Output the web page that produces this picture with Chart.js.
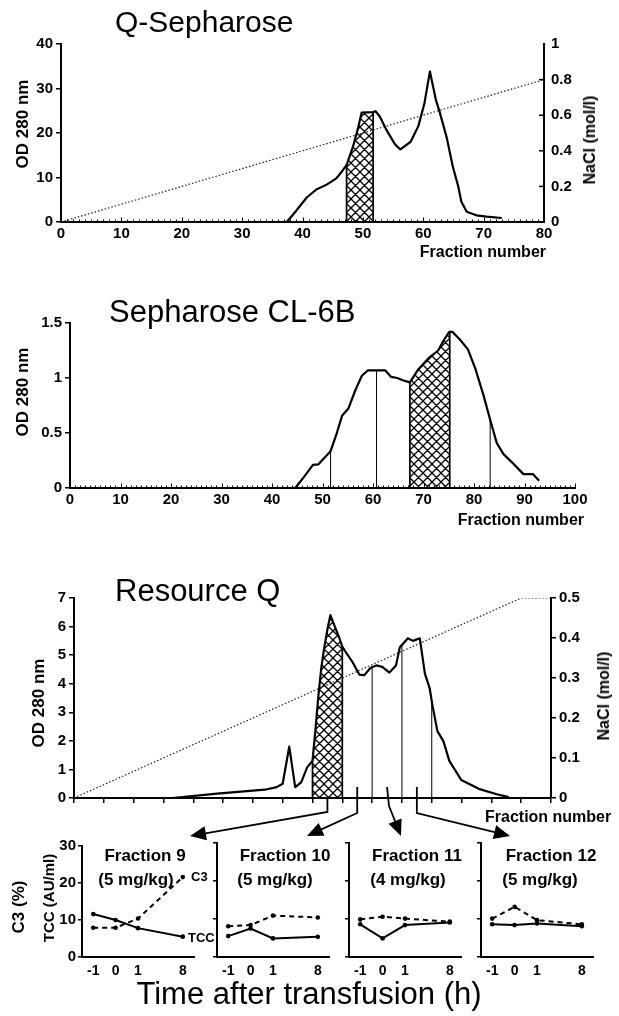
<!DOCTYPE html>
<html>
<head>
<meta charset="utf-8">
<script src="https://cdn.jsdelivr.net/npm/chart.js@4.4.1/dist/chart.umd.min.js"></script>
<style>
  body { margin: 0; background: #fff; }
  #page { position: relative; width: 619px; height: 1016px; overflow: hidden;
          font-family: "Liberation Sans", Arial, sans-serif; color: #000; }
  canvas { position: absolute; }
  .t { position: absolute; white-space: nowrap; line-height: 1; }
  .b { font-weight: bold; }
  .c { transform: translate(-50%, -50%); }
  .r { transform: translate(-50%, -50%) rotate(-90deg); }
  .e { transform: translate(-100%, -50%); }
  .s { transform: translate(0, -50%); }
</style>
</head>
<body>
<div id="page">
  <canvas id="qs" width="619" height="224" style="left:0;top:28px"></canvas>
  <canvas id="cl" width="619" height="202" style="left:0;top:311px"></canvas>
  <canvas id="rq" width="619" height="264" style="left:0;top:586px"></canvas>
  <canvas id="f9" width="150" height="145" style="left:50px;top:835px"></canvas>
  <canvas id="f10" width="130" height="145" style="left:205px;top:835px"></canvas>
  <canvas id="f11" width="130" height="145" style="left:337px;top:835px"></canvas>
  <canvas id="f12" width="130" height="145" style="left:469px;top:835px"></canvas>

  <div class="t" style="left:115px;top:7px;font-size:30px">Q-Sepharose</div>
  <div class="t b r" style="left:22px;top:124px;font-size:17px">OD 280 nm</div>
  <div class="t b r" style="left:590px;top:140px;font-size:16px">NaCl (mol/l)</div>
  <div class="t b e" style="left:546px;top:252px;font-size:16px">Fraction number</div>

  <div class="t" style="left:109px;top:296px;font-size:31px">Sepharose CL-6B</div>
  <div class="t b r" style="left:22px;top:392px;font-size:17px">OD 280 nm</div>
  <div class="t b e" style="left:584px;top:520px;font-size:16px">Fraction number</div>

  <div class="t" style="left:115px;top:575px;font-size:31px">Resource Q</div>
  <div class="t b r" style="left:38px;top:703px;font-size:17px">OD 280 nm</div>
  <div class="t b r" style="left:604px;top:696px;font-size:16px">NaCl (mol/l)</div>
  <div class="t b s" style="left:485px;top:817px;font-size:16px">Fraction number</div>

  <div class="t b r" style="left:18px;top:907px;font-size:17px">C3 (%)</div>
  <div class="t b r" style="left:48px;top:898px;font-size:15px">TCC (AU/ml)</div>
  <div class="t b c" style="left:145px;top:855px;font-size:17px">Fraction 9</div>
  <div class="t b c" style="left:136px;top:879px;font-size:17px">(5 mg/kg)</div>
  <div class="t b c" style="left:285px;top:855px;font-size:17px">Fraction 10</div>
  <div class="t b c" style="left:275px;top:879px;font-size:17px">(5 mg/kg)</div>
  <div class="t b c" style="left:417px;top:855px;font-size:17px">Fraction 11</div>
  <div class="t b c" style="left:408px;top:879px;font-size:17px">(4 mg/kg)</div>
  <div class="t b c" style="left:551px;top:855px;font-size:17px">Fraction 12</div>
  <div class="t b c" style="left:540px;top:879px;font-size:17px">(5 mg/kg)</div>
  <div class="t b s" style="left:191px;top:876px;font-size:13px">C3</div>
  <div class="t b s" style="left:188px;top:937px;font-size:13px">TCC</div>
  <div class="t c" style="left:309px;top:993px;font-size:31px">Time after transfusion (h)</div>
</div>

<script>
// Q-Sepharose: OD 280 nm per fraction, NaCl gradient, pooled fractions
const qsFraction = [37.4, 39, 40.7, 42.3, 44, 45.6, 46.5, 47.3, 48.4, 49.2, 49.8, 51.7, 52.1, 52.8, 53.9, 55.3, 56.2, 57.9, 59.2, 60.2, 61.1, 62.1, 62.7, 63.9, 64.9, 65.8, 66.3, 67.2, 68.8, 70.5, 73];
const qsOD = [0, 2.6, 5.5, 7.3, 8.4, 9.8, 11.3, 12.8, 17.1, 21.1, 24.6, 24.7, 24.9, 23.7, 20.7, 17.5, 16.3, 18.0, 21.6, 26.7, 33.8, 27.4, 24.8, 18.9, 12.4, 8.0, 4.6, 2.3, 1.5, 1.2, 0.9];
const qsNaClFraction = [0, 80];
const qsNaCl = [0, 0.8];
const qsPool = [47.3, 51.7];

// Sepharose CL-6B
const clFraction = [44.6, 46.5, 48.1, 49.2, 50.4, 51.6, 52.7, 53.9, 55.1, 56.6, 57.8, 59.0, 60.1, 62.4, 63.6, 64.8, 65.9, 67.3, 69.0, 71.0, 72.9, 74.1, 75.1, 75.7, 77.2, 78.8, 80.3, 81.9, 83.2, 84.5, 85.8, 87.8, 89.8, 91.7, 92.9];
const clOD = [0, 0.11, 0.21, 0.215, 0.275, 0.335, 0.48, 0.66, 0.72, 0.9, 1.02, 1.07, 1.07, 1.07, 1.01, 1.0, 0.98, 0.96, 1.08, 1.18, 1.25, 1.35, 1.42, 1.42, 1.35, 1.26, 1.08, 0.84, 0.62, 0.41, 0.31, 0.22, 0.126, 0.126, 0.066];
const clCuts = [51.6, 60.7, 83.2];
const clPool = [67.3, 75.2];

// Resource Q
const rqFraction = [3.3, 4.8, 6.4, 6.8, 7.0, 7.22, 7.42, 7.62, 7.82, 8.0, 8.1, 8.2, 8.3, 8.4, 8.5, 8.6, 8.75, 8.9, 9.0, 9.15, 9.34, 9.57, 9.74, 9.94, 10.14, 10.34, 10.58, 10.8, 10.93, 11.2, 11.37, 11.6, 11.77, 11.93, 12.02, 12.19, 12.39, 12.59, 12.99, 13.58, 14.18, 14.58];
const rqOD = [0, 0.15, 0.29, 0.38, 0.5, 1.8, 0.38, 0.55, 1.07, 1.3, 2.4, 3.6, 4.6, 5.3, 5.9, 6.4, 6.0, 5.6, 5.3, 5.05, 4.76, 4.32, 4.3, 4.55, 4.64, 4.59, 4.39, 4.64, 5.28, 5.59, 5.5, 5.59, 4.35, 3.84, 3.26, 2.34, 1.99, 1.3, 0.63, 0.32, 0.13, 0.03];
const rqNaClFraction = [0, 15, 16];
const rqNaCl = [0, 0.5, 0.5];
const rqCuts = [10, 11, 12];
const rqPool = [8, 9];
const testedFractions = [9, 10, 11, 12];

// C3 and TCC after transfusion of each fraction
const timeLabels = ['-1', '0', '1', '', '8'];
const tcc9 = [11.6, 10.0, 7.8, null, 5.5];
const c3f9 = [7.9, 7.9, 10.4, null, 21.6];
const tcc10 = [5.5, 7.5, 4.9, null, 5.3];
const c3f10 = [8.1, 8.4, 10.9, null, 10.4];
const tcc11 = [8.6, 4.9, 8.4, null, 9.1];
const c3f11 = [9.9, 10.6, 10.1, null, 9.3];
const tcc12 = [8.6, 8.4, 8.8, null, 8.1];
const c3f12 = [10.1, 13.2, 9.7, null, 8.6];

const FAMILY = "'Liberation Sans', Arial, sans-serif";
const bold = (size) => ({ family: FAMILY, size: size, weight: 'bold' });
const fit = (n) => (s) => { if (s.isHorizontal()) s.height = n; else s.width = n; };
const xy = (xs, ys) => xs.map((x, i) => ({ x: x, y: ys[i] }));
const plain = v => String(+v.toFixed(1));

const hatch = (function () {
  const c = document.createElement('canvas');
  c.width = 9; c.height = 9;
  const g = c.getContext('2d');
  g.strokeStyle = '#000';
  g.lineWidth = 1.3;
  g.beginPath();
  for (let k = -9; k <= 9; k += 9) {
    g.moveTo(k, 0); g.lineTo(k + 9, 9);
    g.moveTo(k + 9, 0); g.lineTo(k, 9);
  }
  g.stroke();
  return c;
})();

function curveYAt(pts, x) {
  for (let i = 1; i < pts.length; i++) {
    if (x <= pts[i].x) {
      const a = pts[i - 1], b = pts[i];
      return a.y + (b.y - a.y) * (x - a.x) / (b.x - a.x);
    }
  }
  return pts[pts.length - 1].y;
}

function drawArrow(ctx, pts) {
  const n = pts.length;
  const [tx, ty] = pts[n - 1], [px, py] = pts[n - 2];
  const len = Math.hypot(tx - px, ty - py);
  const dx = (tx - px) / len, dy = (ty - py) / len;
  const L = 16, W = 7;
  ctx.beginPath();
  ctx.moveTo(pts[0][0], pts[0][1]);
  for (let i = 1; i < n - 1; i++) ctx.lineTo(pts[i][0], pts[i][1]);
  ctx.lineTo(tx - dx * L * 0.8, ty - dy * L * 0.8);
  ctx.stroke();
  ctx.beginPath();
  ctx.moveTo(tx, ty);
  ctx.lineTo(tx - dx * L - dy * W, ty - dy * L + dx * W);
  ctx.lineTo(tx - dx * L + dy * W, ty - dy * L - dx * W);
  ctx.closePath();
  ctx.fill();
}

const fractionMarks = {
  id: 'fractionMarks',
  beforeDatasetsDraw(chart, args, opts) {
    if (!opts.pool) return;
    const ctx = chart.ctx;
    const pts = chart.getDatasetMeta(0).data.map(p => ({ x: p.x, y: p.y }));
    const xs = chart.scales.x;
    const base = chart.scales.y.getPixelForValue(0);
    const top = chart.chartArea.top;
    const x1 = xs.getPixelForValue(opts.pool[0]);
    const x2 = xs.getPixelForValue(opts.pool[1]);
    ctx.save();
    ctx.beginPath();
    ctx.rect(x1, top, x2 - x1, base - top);
    ctx.clip();
    ctx.beginPath();
    ctx.moveTo(pts[0].x, base);
    pts.forEach(p => ctx.lineTo(p.x, p.y));
    ctx.lineTo(pts[pts.length - 1].x, base);
    ctx.closePath();
    ctx.fillStyle = ctx.createPattern(hatch, 'repeat');
    ctx.fill();
    ctx.restore();

    ctx.save();
    ctx.strokeStyle = '#000';
    ctx.lineWidth = 1.7;
    [x1, x2].forEach(x => {
      ctx.beginPath(); ctx.moveTo(x, base); ctx.lineTo(x, curveYAt(pts, x)); ctx.stroke();
    });
    ctx.lineWidth = 1;
    (opts.cuts || []).forEach(v => {
      const x = xs.getPixelForValue(v);
      ctx.beginPath(); ctx.moveTo(x, base); ctx.lineTo(x, curveYAt(pts, x)); ctx.stroke();
    });
    ctx.restore();
  },
  afterDatasetsDraw(chart, args, opts) {
    const ctx = chart.ctx;
    const xs = chart.scales.x;
    const base = chart.chartArea.bottom;
    ctx.save();
    ctx.strokeStyle = '#000';
    if (opts.minor) {
      ctx.lineWidth = 1;
      for (let v = xs.min; v <= xs.max; v++) {
        const x = Math.round(xs.getPixelForValue(v)) + 0.5;
        const l = v % 10 === 0 ? 4.5 : 2.5;
        ctx.beginPath(); ctx.moveTo(x, base); ctx.lineTo(x, base - l); ctx.stroke();
      }
    }
    if (opts.innerRight) {
      const s = chart.scales.y2;
      ctx.lineWidth = 1.5;
      s.ticks.forEach(t => {
        if (t.value <= s.min || t.value >= s.max) return;
        const y = s.getPixelForValue(t.value);
        ctx.beginPath(); ctx.moveTo(s.left, y); ctx.lineTo(s.left - 5, y); ctx.stroke();
      });
    }
    if (opts.arrows) {
      ctx.fillStyle = '#000';
      ctx.lineWidth = 1.8;
      opts.arrows.fractions.forEach((f, i) => {
        const x = xs.getPixelForValue(f - 0.5);
        const a = opts.arrows.shape[i];
        drawArrow(ctx, [[x, base - a.rise], [x + a.dx, base + a.bend], [a.tipX, base + 38]]);
      });
    }
    ctx.restore();
  }
};

const black = '#000';
const tickOpts = (size, extra) => Object.assign({ color: black, font: bold(size), padding: 3, maxRotation: 0 }, extra || {});

function chromatogram(id, cfg) {
  const datasets = [{
    data: xy(cfg.fractions, cfg.od),
    borderColor: black, borderWidth: 2.2, pointRadius: 0, tension: 0,
    borderJoinStyle: 'round', yAxisID: 'y'
  }];
  if (cfg.naclFractions) {
    datasets.push({
      data: xy(cfg.naclFractions, cfg.nacl),
      borderColor: '#222', borderWidth: 1.2, borderDash: [1.5, 2], pointRadius: 0, yAxisID: 'y2'
    });
  }
  const scales = {
    x: Object.assign({
      type: 'linear', min: cfg.xMax[0], max: cfg.xMax[1],
      border: { color: black, width: 2 },
      afterFit: fit(cfg.xHeight)
    }, cfg.xScale),
    y: {
      min: 0, max: cfg.yMax,
      ticks: tickOpts(15, { stepSize: cfg.yStep, callback: plain }),
      grid: { drawOnChartArea: false, color: black, lineWidth: 1.5, tickLength: 5 },
      border: { color: black, width: 2 },
      afterFit: fit(cfg.yWidth)
    }
  };
  if (cfg.y2) scales.y2 = Object.assign({
    position: 'right', min: 0, max: cfg.y2.max,
    border: { color: black, width: 2 },
    afterFit: fit(cfg.y2.width)
  }, cfg.y2.scale);
  return new Chart(document.getElementById(id), {
    type: 'line',
    data: { datasets: datasets },
    options: {
      responsive: false, animation: false,
      layout: { padding: cfg.padding },
      plugins: { legend: { display: false }, tooltip: { enabled: false }, fractionMarks: cfg.marks },
      scales: scales
    },
    plugins: [fractionMarks]
  });
}

const xLabelled = {
  ticks: tickOpts(15, { stepSize: 10, padding: 3 }),
  grid: { display: false, drawTicks: false }
};

chromatogram('qs', {
  fractions: qsFraction, od: qsOD, naclFractions: qsNaClFraction, nacl: qsNaCl,
  xMax: [0, 80], xHeight: 30, xScale: xLabelled,
  yMax: 40, yStep: 10, yWidth: 61,
  y2: { max: 1, width: 75, scale: {
    ticks: tickOpts(15, { stepSize: 0.2, padding: 7, callback: plain }),
    grid: { display: false, drawTicks: false }
  } },
  padding: { top: 10, right: 0, left: 0, bottom: 0 },
  marks: { pool: qsPool, minor: true, innerRight: true }
});

chromatogram('cl', {
  fractions: clFraction, od: clOD,
  xMax: [0, 100], xHeight: 25, xScale: xLabelled,
  yMax: 1.5, yStep: 0.5, yWidth: 70,
  padding: { top: 10, right: 44, left: 0, bottom: 0 },
  marks: { pool: clPool, cuts: clCuts, minor: true }
});

chromatogram('rq', {
  fractions: rqFraction, od: rqOD, naclFractions: rqNaClFraction, nacl: rqNaCl,
  xMax: [0, 16], xHeight: 52,
  xScale: {
    ticks: { display: false, stepSize: 1 },
    grid: { drawOnChartArea: false, color: black, lineWidth: 1.5, tickLength: 5 }
  },
  yMax: 7, yStep: 1, yWidth: 74,
  y2: { max: 0.5, width: 68, scale: {
    ticks: tickOpts(15, { stepSize: 0.1, padding: 3, callback: plain }),
    grid: { drawOnChartArea: false, color: black, lineWidth: 1.5, tickLength: 5 }
  } },
  padding: { top: 10, right: 0, left: 0, bottom: 0 },
  marks: {
    pool: rqPool, cuts: rqCuts,
    arrows: {
      fractions: testedFractions,
      shape: [
        { rise: 0, dx: 0, bend: 14, tipX: 190 },
        { rise: 11, dx: 0, bend: 15, tipX: 307 },
        { rise: 11, dx: 2, bend: 8, tipX: 401 },
        { rise: 11, dx: 0, bend: 15, tipX: 510 }
      ]
    }
  }
});

function transfusion(id, tcc, c3, showY) {
  const line = (data, dash) => ({
    data: data, borderColor: black, borderWidth: 2, borderDash: dash,
    pointRadius: 2.3, pointBackgroundColor: black, pointBorderWidth: 0, spanGaps: true, tension: 0
  });
  return new Chart(document.getElementById(id), {
    type: 'line',
    data: { labels: timeLabels, datasets: [line(tcc, []), line(c3, [5, 4])] },
    options: {
      responsive: false, animation: false,
      layout: { padding: { top: 8, right: 6, left: 0, bottom: 0 } },
      plugins: { legend: { display: false }, tooltip: { enabled: false } },
      scales: {
        x: {
          offset: true,
          ticks: tickOpts(14, { padding: 6, autoSkip: false }),
          grid: { display: false, drawTicks: false },
          border: { color: black, width: 2 },
          afterFit: fit(23)
        },
        y: {
          min: 0, max: 30,
          ticks: tickOpts(15, { stepSize: 10, display: showY, padding: 2 }),
          grid: { drawOnChartArea: false, color: black, lineWidth: 1.5, tickLength: 4 },
          border: { color: black, width: 2 },
          afterFit: fit(showY ? 32 : 12)
        }
      }
    }
  });
}

transfusion('f9', tcc9, c3f9, true);
transfusion('f10', tcc10, c3f10, false);
transfusion('f11', tcc11, c3f11, false);
transfusion('f12', tcc12, c3f12, false);
</script>
</body>
</html>
